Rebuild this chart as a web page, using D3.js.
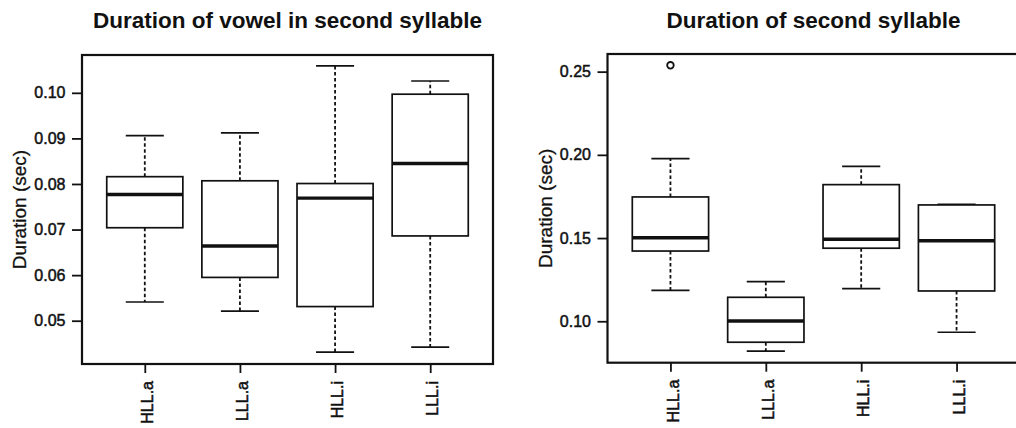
<!DOCTYPE html>
<html>
<head>
<meta charset="utf-8">
<script src="https://cdn.jsdelivr.net/npm/d3@7"></script>
<style>
  html, body { margin: 0; padding: 0; background: #fff; }
  svg { display: block; font-family: "Liberation Sans", Arial, sans-serif; }
</style>
</head>
<body>
<svg width="1016" height="428"></svg>
<script>
const svg = d3.select("svg");

const categories = ["HLL.a", "LLL.a", "HLL.i", "LLL.i"];

// left: duration of vowel in second syllable
const vowelLow = [0.0541, 0.0521, 0.0431, 0.0442];
const vowelQ1 = [0.0704, 0.0595, 0.0531, 0.0686];
const vowelMed = [0.0777, 0.0664, 0.0769, 0.0845];
const vowelQ3 = [0.0816, 0.0807, 0.0801, 0.0997];
const vowelHigh = [0.0906, 0.0912, 0.1059, 0.1026];
const vowelOut = [[], [], [], []];
const vowelTicks = [0.05, 0.06, 0.07, 0.08, 0.09, 0.10];

// right: duration of second syllable
const syllLow = [0.1186, 0.0820, 0.1196, 0.0934];
const syllQ1 = [0.1422, 0.0874, 0.1439, 0.1182];
const syllMed = [0.1502, 0.1002, 0.1493, 0.1484];
const syllQ3 = [0.1747, 0.1144, 0.1821, 0.1699];
const syllHigh = [0.1977, 0.1238, 0.1931, 0.1702];
const syllOut = [[0.2538], [], [], []];
const syllTicks = [0.10, 0.15, 0.20, 0.25];

const ink = "#111";

function panel(opts) {
    const { left, right, top, bottom, domain, ticks, title, low, q1, med, q3, high, out } = opts;

    const x = d3.scalePoint().domain(categories).range([left, right]).padding(0.66);
    const y = d3.scaleLinear().domain(domain).range([bottom, top]);
    const boxW = x.step() * 0.8;

    const g = svg.append("g");

    const rows = categories.map((c, i) => ({
        cat: c, low: low[i], q1: q1[i], med: med[i], q3: q3[i], high: high[i], out: out[i]
    }));

    const boxes = g.selectAll("g.box")
        .data(rows)
        .enter()
        .append("g")
        .attr("class", "box");

    // whiskers (dashed)
    boxes.append("line")
        .attr("x1", d => x(d.cat)).attr("x2", d => x(d.cat))
        .attr("y1", d => y(d.q3)).attr("y2", d => y(d.high))
        .attr("stroke", ink).attr("stroke-width", 1.8).attr("stroke-dasharray", "3.5,2.5");
    boxes.append("line")
        .attr("x1", d => x(d.cat)).attr("x2", d => x(d.cat))
        .attr("y1", d => y(d.q1)).attr("y2", d => y(d.low))
        .attr("stroke", ink).attr("stroke-width", 1.8).attr("stroke-dasharray", "3.5,2.5");

    // staples
    ["low", "high"].forEach(k => {
        boxes.append("line")
            .attr("x1", d => x(d.cat) - boxW / 4).attr("x2", d => x(d.cat) + boxW / 4)
            .attr("y1", d => y(d[k])).attr("y2", d => y(d[k]))
            .attr("stroke", ink).attr("stroke-width", 1.7);
    });

    boxes.append("rect")
        .attr("x", d => x(d.cat) - boxW / 2)
        .attr("width", boxW)
        .attr("y", d => y(d.q3))
        .attr("height", d => y(d.q1) - y(d.q3))
        .attr("fill", "#fff")
        .attr("stroke", ink).attr("stroke-width", 1.7);

    boxes.append("line")
        .attr("x1", d => x(d.cat) - boxW / 2).attr("x2", d => x(d.cat) + boxW / 2)
        .attr("y1", d => y(d.med)).attr("y2", d => y(d.med))
        .attr("stroke", ink).attr("stroke-width", 3.4);

    boxes.selectAll("circle")
        .data(d => d.out.map(v => ({ cat: d.cat, v })))
        .enter()
        .append("circle")
        .attr("cx", d => x(d.cat)).attr("cy", d => y(d.v))
        .attr("r", 3.3)
        .attr("fill", "none").attr("stroke", ink).attr("stroke-width", 1.8);

    // frame
    g.append("rect")
        .attr("x", left).attr("y", top)
        .attr("width", right - left).attr("height", bottom - top)
        .attr("fill", "none").attr("stroke", ink).attr("stroke-width", 2.2);

    const yAxis = g.append("g")
        .attr("transform", `translate(${left},0)`)
        .call(d3.axisLeft(y).tickValues(ticks).tickFormat(d3.format(".2f")).tickSize(10).tickPadding(6.5));
    yAxis.select(".domain").remove();
    yAxis.selectAll("line").attr("stroke", ink).attr("stroke-width", 1.8);
    yAxis.selectAll("text").attr("fill", ink).attr("stroke", ink).attr("stroke-width", 0.5)
        .style("font-size", "16px")
        .style("font-family", "'Liberation Sans', Arial, sans-serif");

    const xAxis = g.append("g")
        .attr("transform", `translate(0,${bottom})`)
        .call(d3.axisBottom(x).tickSize(9));
    xAxis.select(".domain").remove();
    xAxis.selectAll("line").attr("stroke", ink).attr("stroke-width", 1.8);
    xAxis.selectAll("text")
        .attr("fill", ink).attr("stroke", ink).attr("stroke-width", 0.5)
        .style("font-size", "16px")
        .style("font-family", "'Liberation Sans', Arial, sans-serif")
        .attr("transform", "rotate(-90)")
        .attr("text-anchor", "end")
        .attr("x", -17)
        .attr("y", 2)
        .attr("dy", "0.35em");

    g.append("text")
        .attr("transform", `translate(${left - 56},${(top + bottom) / 2}) rotate(-90)`)
        .attr("text-anchor", "middle")
        .attr("fill", ink).attr("stroke", ink).attr("stroke-width", 0.3)
        .style("font-size", "19px")
        .text("Duration (sec)");

    g.append("text")
        .attr("x", (left + right) / 2)
        .attr("y", 28)
        .attr("text-anchor", "middle")
        .attr("fill", ink)
        .style("font-size", "22.5px")
        .style("font-weight", "bold")
        .text(title);
}

panel({
    left: 82, right: 493, top: 55, bottom: 364,
    domain: [0.0405, 0.1083], ticks: vowelTicks,
    title: "Duration of vowel in second syllable",
    low: vowelLow, q1: vowelQ1, med: vowelMed, q3: vowelQ3, high: vowelHigh, out: vowelOut
});

panel({
    left: 607.5, right: 1019.5, top: 54, bottom: 362.7,
    domain: [0.0751, 0.2606], ticks: syllTicks,
    title: "Duration of second syllable",
    low: syllLow, q1: syllQ1, med: syllMed, q3: syllQ3, high: syllHigh, out: syllOut
});
</script>
</body>
</html>
